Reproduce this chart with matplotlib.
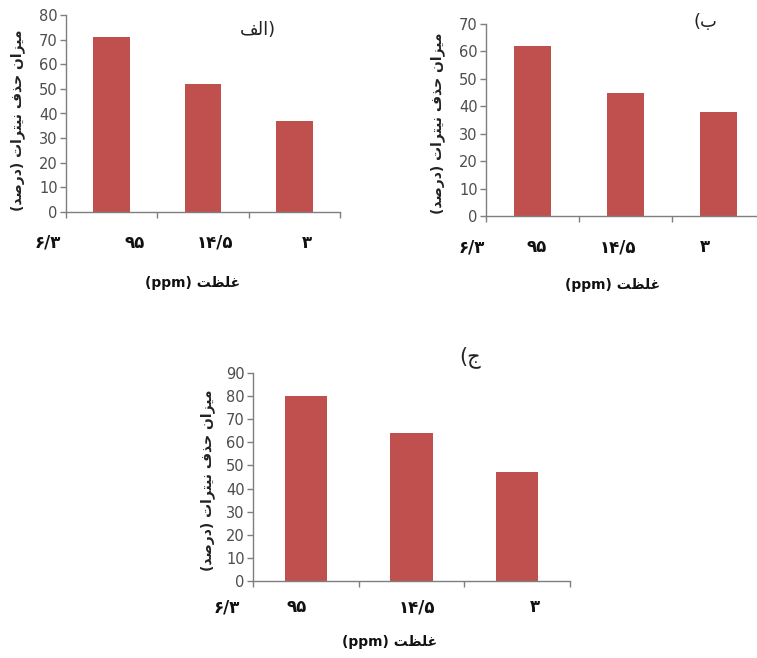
import matplotlib
matplotlib.use("Agg")
import matplotlib.pyplot as plt

# data
categories = ["۹۵", "۱۴/۵", "۳"]
extra_label = "۶/۳"
removal_a = [71, 52, 37]
removal_b = [62, 45, 38]
removal_c = [80, 64, 47]
ymax = [80, 70, 90]
titles = ["الف", "ب", "ج"]
ylabel_text = "میزان حذف نیترات (درصد)"
xlabel_word = "غلظت"

BAR = "#C0504D"
W, H = 757, 658

# simple arabic shaping (isolated, final, initial, medial)
FORMS = {
    "ا": ("\uFE8D", "\uFE8E", None, None),
    "ب": ("\uFE8F", "\uFE90", "\uFE91", "\uFE92"),
    "ت": ("\uFE95", "\uFE96", "\uFE97", "\uFE98"),
    "ج": ("\uFE9D", "\uFE9E", "\uFE9F", "\uFEA0"),
    "ح": ("\uFEA1", "\uFEA2", "\uFEA3", "\uFEA4"),
    "د": ("\uFEA9", "\uFEAA", None, None),
    "ذ": ("\uFEAB", "\uFEAC", None, None),
    "ر": ("\uFEAD", "\uFEAE", None, None),
    "ز": ("\uFEAF", "\uFEB0", None, None),
    "ص": ("\uFEB9", "\uFEBA", "\uFEBB", "\uFEBC"),
    "ظ": ("\uFEC5", "\uFEC6", "\uFEC7", "\uFEC8"),
    "غ": ("\uFECD", "\uFECE", "\uFECF", "\uFED0"),
    "ف": ("\uFED1", "\uFED2", "\uFED3", "\uFED4"),
    "ل": ("\uFEDD", "\uFEDE", "\uFEDF", "\uFEE0"),
    "م": ("\uFEE1", "\uFEE2", "\uFEE3", "\uFEE4"),
    "ن": ("\uFEE5", "\uFEE6", "\uFEE7", "\uFEE8"),
    "ی": ("\uFBFC", "\uFBFD", "\uFBFE", "\uFBFF"),
}


def shape(text):
    out = []
    for i, ch in enumerate(text):
        if ch not in FORMS:
            out.append(ch)
            continue
        prev = text[i - 1] if i > 0 else ""
        nxt = text[i + 1] if i + 1 < len(text) else ""
        join_prev = prev in FORMS and FORMS[prev][2] is not None
        join_next = nxt in FORMS and FORMS[ch][2] is not None
        iso, fin, ini, med = FORMS[ch]
        if join_prev and join_next:
            out.append(med)
        elif join_prev:
            out.append(fin)
        elif join_next:
            out.append(ini)
        else:
            out.append(iso)
    vis = "".join(reversed(out))
    return vis.translate(str.maketrans("()", ")("))


def px(x, y):
    return x / W, 1 - y / H


fig = plt.figure(figsize=(W / 100, H / 100), dpi=100)

panels = [
    # axes rect (left, top, right, bottom) in px
    dict(rect=(66, 15, 340, 212), data=removal_a, ymax=ymax[0],
         labx=[48, 135, 215, 307], laby=243, xl=(193, 283), yl=(18, 120),
         title=shape(titles[0]) + ")", tpos=(258, 30), tsize=13),
    dict(rect=(486, 24, 765, 216), data=removal_b, ymax=ymax[1],
         labx=[472, 537, 618, 705], laby=247, xl=(613, 285), yl=(438, 123),
         title="(" + shape(titles[1]), tpos=(705, 22), tsize=13),
    dict(rect=(253, 373, 570, 581), data=removal_c, ymax=ymax[2],
         labx=[227, 297, 417, 535], laby=607, xl=(390, 642), yl=(208, 480),
         title="(" + shape(titles[2]), tpos=(470, 357), tsize=15),
]

for p in panels:
    l, t, r, b = p["rect"]
    ax = fig.add_axes([l / W, 1 - b / H, (r - l) / W, (b - t) / H])
    x = range(len(p["data"]))
    ax.bar(x, p["data"], width=0.4, color=BAR, zorder=2)
    ax.set_xlim(-0.5, len(p["data"]) - 0.5)
    ax.set_ylim(0, p["ymax"])
    ax.set_yticks(range(0, p["ymax"] + 1, 10))
    ax.set_xticks([i - 0.5 for i in range(len(p["data"]) + 1)])
    ax.set_xticklabels([])
    for s in ["top", "right"]:
        ax.spines[s].set_visible(False)
    for s in ["left", "bottom"]:
        ax.spines[s].set_color("#7f7f7f")
        ax.spines[s].set_linewidth(1.0)
    ax.tick_params(axis="both", direction="out", length=4, color="#7f7f7f",
                   width=1.0)
    ax.tick_params(axis="y", labelsize=10.5, labelcolor="#4d4d4d", pad=2)
    for lab in ax.get_yticklabels():
        lab.set_family("Liberation Sans Narrow")
    ax.patch.set_alpha(0)

    labels = [extra_label] + categories
    for lx, txt in zip(p["labx"], labels):
        fx, fy = px(lx, p["laby"])
        fig.text(fx, fy, txt, ha="center", va="center", fontsize=12,
                 fontweight="bold", family="DejaVu Sans", color="#111111")

    fx, fy = px(*p["xl"])
    fig.text(fx, fy, "(ppm) " + shape(xlabel_word), ha="center", va="center",
             fontsize=10, fontweight="bold", family="DejaVu Sans",
             color="#111111")

    fx, fy = px(*p["yl"])
    fig.text(fx, fy, shape(ylabel_text), ha="center", va="center",
             rotation=90, fontsize=10, fontweight="bold",
             family="DejaVu Sans", color="#222222")

    fx, fy = px(*p["tpos"])
    fig.text(fx, fy, p["title"], ha="center", va="center", fontsize=p["tsize"],
             family="DejaVu Sans", color="#222222")

fig.savefig("out.png", dpi=100)
